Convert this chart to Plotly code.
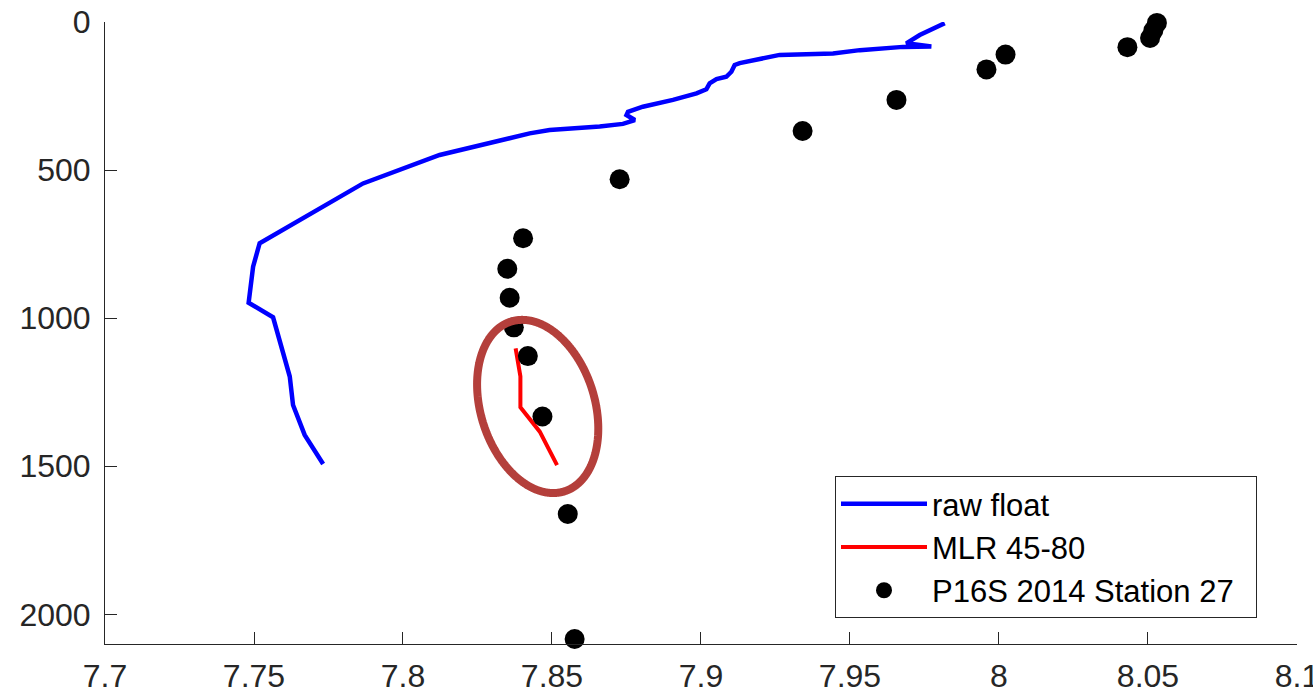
import numpy as np
import plotly.graph_objects as go

# Raw float pH profile (pH, depth in m)
float_ph = [7.9818, 7.9773, 7.9734, 7.9689, 7.9773, 7.9678, 7.9533, 7.9443, 7.9264,
            7.9130, 7.9113, 7.9102, 7.9085, 7.9052, 7.9029, 7.9018, 7.8985, 7.8906,
            7.8805, 7.8755, 7.8750, 7.8778, 7.8738, 7.8660, 7.8492, 7.8425, 7.8123,
            7.7866, 7.7519, 7.7497, 7.7482, 7.7564, 7.7586, 7.7620, 7.7631, 7.7670,
            7.7732]
float_depth = [4, 27, 44, 72, 83, 84, 95, 106, 111,
               139, 145, 168, 185, 193, 207, 227, 241, 263,
               286, 303, 314, 331, 344, 353, 365, 376, 449,
               545, 747, 826, 948, 997, 1074, 1197, 1293, 1394,
               1492]

# MLR 45-80 estimate
mlr_ph = [7.8378, 7.8394, 7.8394, 7.8459, 7.8517]
mlr_depth = [1102, 1197, 1301, 1383, 1496]

# P16S 2014 Station 27 bottle samples
bottle_ph = [8.0530, 8.0518, 8.0507, 8.0431, 8.0022, 7.9958, 7.9656, 7.9341, 7.8727,
             7.8403, 7.8350, 7.8358, 7.8372, 7.8419, 7.8468, 7.8553, 7.8576]
bottle_depth = [3, 29, 54, 85, 110, 160, 263, 368, 531,
                730, 833, 931, 1031, 1128, 1332, 1661, 2083]

x_ticks = [7.7, 7.75, 7.8, 7.85, 7.9, 7.95, 8.0, 8.05, 8.1]
x_tick_text = ["7.7", "7.75", "7.8", "7.85", "7.9", "7.95", "8", "8.05", "8.1"]
y_ticks = [0, 500, 1000, 1500, 2000]

X_RANGE = [7.7, 8.10001]
Y_RANGE = [2100, 0]

W, H = 1313, 695
M = dict(l=105, r=16, t=22, b=51)
plot_w = W - M["l"] - M["r"]
plot_h = H - M["t"] - M["b"]
px_per_x = plot_w / (X_RANGE[1] - X_RANGE[0])
px_per_y = plot_h / (Y_RANGE[0] - Y_RANGE[1])

# Highlight ellipse around the MLR segment (center in data units, axes in px)
ell_cx, ell_cy = 7.8452, 1298
ell_a, ell_b, ell_tilt = 89, 57, np.deg2rad(17.5)
t = np.linspace(0, 2 * np.pi, 721)
dx = ell_a * np.cos(t) * np.sin(ell_tilt) + ell_b * np.sin(t) * np.cos(ell_tilt)
dy = ell_a * np.cos(t) * np.cos(ell_tilt) - ell_b * np.sin(t) * np.sin(ell_tilt)
ell_x = ell_cx + dx / px_per_x
ell_y = ell_cy + dy / px_per_y

fig = go.Figure()
fig.add_trace(go.Scatter(x=float_ph, y=float_depth, mode="lines", name="raw float",
                         line=dict(color="#0000FF", width=4.5)))
fig.add_trace(go.Scatter(x=mlr_ph, y=mlr_depth, mode="lines", name="MLR 45-80",
                         line=dict(color="#FF0000", width=4)))
fig.add_trace(go.Scatter(x=bottle_ph, y=bottle_depth, mode="markers",
                         name="P16S 2014 Station 27\u00a0\u00a0", cliponaxis=False,
                         marker=dict(color="#000000", size=20)))
fig.add_trace(go.Scatter(x=ell_x, y=ell_y, mode="lines", showlegend=False,
                         hoverinfo="skip",
                         line=dict(color="#B43F3B", width=8, simplify=False,
                                   shape="spline")))

axis_common = dict(showline=True, linecolor="#262626", linewidth=1,
                   ticks="inside", ticklen=12, tickwidth=1, tickcolor="#262626",
                   showgrid=False, zeroline=False, mirror=False, automargin=False,
                   ticklabeloverflow="allow",
                   tickfont=dict(family="Liberation Sans, Arial, sans-serif",
                                 size=32, color="#262626"))

fig.update_layout(
    width=W, height=H, autosize=False, margin=M,
    paper_bgcolor="white", plot_bgcolor="white",
    xaxis=dict(range=X_RANGE, tickvals=x_ticks, ticktext=x_tick_text,
               ticklabelstandoff=4, **axis_common),
    yaxis=dict(range=Y_RANGE, tickvals=y_ticks, ticklabelstandoff=7,
               **axis_common),
    legend=dict(x=(835 - M["l"]) / plot_w, xanchor="left",
                y=(H - M["b"] - 618) / plot_h, yanchor="bottom",
                bgcolor="white", bordercolor="#262626", borderwidth=1,
                font=dict(family="Liberation Sans, Arial, sans-serif",
                          size=31, color="#000000"),
                itemwidth=86, tracegroupgap=0),
    showlegend=True,
)

fig.write_html("out.html")
